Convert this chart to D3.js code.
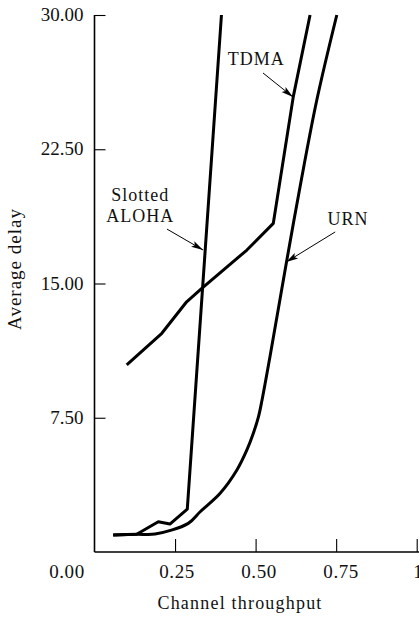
<!DOCTYPE html>
<html>
<head>
<meta charset="utf-8">
<script src="https://cdn.jsdelivr.net/npm/d3@7"></script>
<style>
    body { margin: 0; background: #fff; }
    svg { display: block; font-family: "Liberation Serif", "Times New Roman", serif; }
</style>
</head>
<body>
<div id="chart-area"></div>
<script>

//  Data (throughput, delay)

var alohaX = [0.058, 0.131, 0.198, 0.234, 0.288, 0.394];
var alohaY = [0.95, 0.99, 1.69, 1.56, 2.39, 30.0];

var tdmaX = [0.100, 0.209, 0.286, 0.333, 0.473, 0.555, 0.617, 0.669];
var tdmaY = [10.45, 12.22, 13.98, 14.73, 16.87, 18.36, 25.44, 30.0];

var urnX = [0.058, 0.131, 0.188, 0.291, 0.328, 0.390, 0.442, 0.473, 0.493, 0.509, 0.520, 0.545, 0.597, 0.638, 0.690, 0.752];
var urnY = [0.95, 0.99, 1.00, 1.60, 2.25, 3.28, 4.58, 5.70, 6.63, 7.56, 8.49, 10.95, 16.31, 20.41, 25.25, 30.0];

var xTicks = [0, 0.25, 0.5, 0.75, 1];
var yTicks = [7.5, 15, 22.5, 30];

// annotation labels: [text lines], label anchor, arrow start, arrow end (data units)
var labels = [
    { lines: ["Slotted", "ALOHA"], x: 0.142, y: 19.6, from: [0.225, 18.04], to: [0.337, 16.87] },
    { lines: ["TDMA"], x: 0.502, y: 27.2, from: [0.523, 26.76], to: [0.616, 25.42] },
    { lines: ["URN"], x: 0.787, y: 18.27, from: [0.747, 17.88], to: [0.595, 16.2] }
];

var width = 419;
var height = 619;

var margin = { left: 94.5, right: 2.3, top: 15, bottom: 67 };

var x = d3.scaleLinear()
    .domain([0, 1])
    .range([margin.left, width - margin.right]);

var y = d3.scaleLinear()
    .domain([0, 30])
    .range([height - margin.bottom, margin.top]);

var svg = d3.select("#chart-area").append("svg")
    .attr("width", width)
    .attr("height", height);

svg.append("defs").append("marker")
    .attr("id", "head")
    .attr("markerUnits", "userSpaceOnUse")
    .attr("viewBox", "0 -5 12 10")
    .attr("refX", 12)
    .attr("refY", 0)
    .attr("markerWidth", 12)
    .attr("markerHeight", 10)
    .attr("orient", "auto")
    .append("path")
    .attr("d", "M0,-3.2L12,0L0,3.2L2.5,0Z")
    .attr("fill", "#000");

//  X axis

var xAxis = d3.axisBottom(x)
    .tickValues(xTicks)
    .tickSize(-13)
    .tickPadding(13)
    .tickFormat(d3.format(".2f"));

var gx = svg.append("g")
    .attr("transform", "translate(0," + y(0) + ")")
    .call(xAxis);

gx.select(".domain")
    .attr("d", "M" + x(0) + ",0H" + width)
    .attr("stroke-width", 1.6);

gx.selectAll(".tick line").attr("stroke-width", 1.1);
gx.selectAll(".tick").filter((d) => d === 0).select("line").remove();

gx.selectAll(".tick text")
    .attr("font-size", 19)
    .attr("font-family", "Liberation Serif")
    .attr("letter-spacing", 0.6)
    .attr("fill", "#111")
    .attr("dx", (d) => d === 0 ? -28 : d === 1 ? -4 : d * 6)
    .attr("text-anchor", (d) => d === 1 ? "start" : "middle");

//  Y axis

var yAxis = d3.axisLeft(y)
    .tickValues(yTicks)
    .tickSize(-11)
    .tickPadding(11)
    .tickFormat(d3.format(".2f"));

var gy = svg.append("g")
    .attr("transform", "translate(" + x(0) + ",0)")
    .call(yAxis);

gy.select(".domain")
    .attr("d", "M0," + y(30) + "V" + y(0))
    .attr("stroke-width", 1.6);

gy.selectAll(".tick line").attr("stroke-width", 1.1);

gy.selectAll(".tick text")
    .attr("font-size", 19)
    .attr("font-family", "Liberation Serif")
    .attr("fill", "#111")
    .attr("dy", "0.3em");

//  Axis titles

svg.append("text")
    .attr("x", 240)
    .attr("y", 609)
    .attr("text-anchor", "middle")
    .attr("font-size", 18)
    .attr("letter-spacing", 1.2)
    .attr("fill", "#111")
    .text("Channel throughput");

svg.append("text")
    .attr("transform", "translate(20.5,269) rotate(-90)")
    .attr("text-anchor", "middle")
    .attr("font-size", 19)
    .attr("letter-spacing", 1)
    .attr("fill", "#111")
    .text("Average delay");

//  Curves

var straight = d3.line()
    .x((d) => x(d[0]))
    .y((d) => y(d[1]));

var smooth = d3.line()
    .x((d) => x(d[0]))
    .y((d) => y(d[1]))
    .curve(d3.curveCatmullRom.alpha(0.5));

var series = [
    { xs: alohaX, ys: alohaY, line: straight },
    { xs: tdmaX, ys: tdmaY, line: straight },
    { xs: urnX, ys: urnY, line: smooth }
];

svg.append("g").selectAll("path")
    .data(series)
    .enter()
    .append("path")
    .attr("d", (s) => s.line(s.xs.map((v, i) => [v, s.ys[i]])))
    .attr("fill", "none")
    .attr("stroke", "#000")
    .attr("stroke-width", 3)
    .attr("stroke-linejoin", "round")
    .attr("stroke-linecap", "butt");

//  Labels and arrows

var notes = svg.append("g").selectAll("g")
    .data(labels)
    .enter()
    .append("g");

notes.append("text")
    .attr("x", (d) => x(d.x))
    .attr("y", (d) => y(d.y))
    .attr("text-anchor", "middle")
    .attr("font-size", 18)
    .attr("letter-spacing", 1)
    .attr("fill", "#111")
    .selectAll("tspan")
    .data((d) => d.lines.map((t) => ({ t: t, x: d.x })))
    .enter()
    .append("tspan")
    .attr("x", (d) => x(d.x))
    .attr("dy", (d, i) => i === 0 ? 0 : 21)
    .text((d) => d.t);

notes.append("line")
    .attr("x1", (d) => x(d.from[0]))
    .attr("y1", (d) => y(d.from[1]))
    .attr("x2", (d) => x(d.to[0]))
    .attr("y2", (d) => y(d.to[1]))
    .attr("stroke", "#000")
    .attr("stroke-width", 1)
    .attr("marker-end", "url(#head)");

</script>
</body>
</html>
